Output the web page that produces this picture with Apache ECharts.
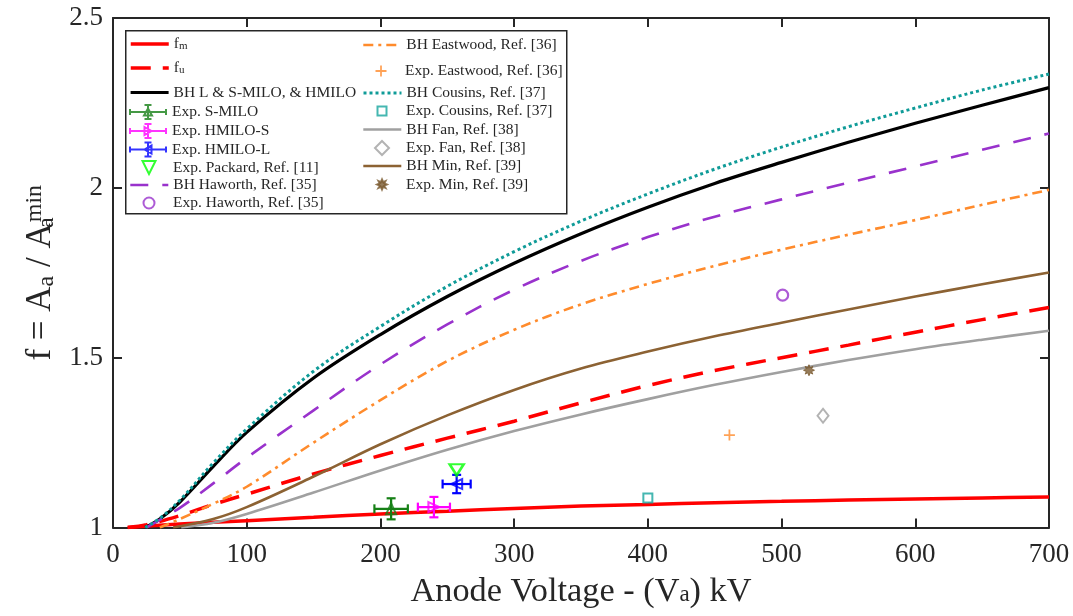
<!DOCTYPE html>
<html><head><meta charset="utf-8">
<script src="https://cdn.jsdelivr.net/npm/echarts@6/dist/echarts.min.js"></script>
<style>html,body{margin:0;padding:0;background:#fff}#c{width:1073px;height:616px}</style>
</head><body><div id="c"></div>
<script>
// ---------- data (x = anode voltage kV, y = f) ----------
const xTickValues = [0, 100, 200, 300, 400, 500, 600, 700];
const yTickValues = [1, 1.5, 2, 2.5];

const fmCurve = [[11,1.0],[50,1.01],[100,1.02],[150,1.03],[200,1.04],[250,1.048],[300,1.056],[350,1.063],[400,1.068],[450,1.073],[500,1.077],[550,1.081],[600,1.084],[650,1.087],[700,1.09]];
const fuCurve = [[11,1.0],[25,1.008],[50,1.035],[75,1.068],[100,1.098],[150,1.158],[200,1.212],[250,1.263],[300,1.313],[350,1.367],[400,1.418],[450,1.462],[500,1.5],[550,1.537],[600,1.575],[650,1.612],[700,1.648]];
const bhMiloCurve = [[24,1.0],[35,1.025],[50,1.075],[75,1.18],[100,1.28],[150,1.44],[200,1.568],[250,1.68],[300,1.778],[350,1.865],[400,1.943],[450,2.013],[500,2.075],[550,2.134],[600,2.19],[650,2.243],[700,2.295]];
const bhHaworthCurve = [[25,1.0],[50,1.058],[75,1.13],[100,1.205],[150,1.345],[200,1.48],[250,1.598],[300,1.7],[350,1.785],[400,1.855],[450,1.915],[500,1.966],[550,2.015],[600,2.063],[650,2.112],[700,2.16]];
const bhEastwoodCurve = [[35,1.0],[50,1.025],[75,1.07],[100,1.12],[150,1.25],[200,1.375],[250,1.49],[300,1.582],[350,1.657],[400,1.717],[450,1.77],[500,1.818],[550,1.862],[600,1.905],[650,1.95],[700,1.994]];
const bhCousinsCurve = [[24,1.0],[35,1.027],[50,1.08],[75,1.19],[100,1.29],[150,1.46],[200,1.592],[250,1.71],[300,1.812],[350,1.902],[400,1.982],[450,2.055],[500,2.12],[550,2.18],[600,2.235],[650,2.288],[700,2.335]];
const bhFanCurve = [[51,1.0],[75,1.014],[100,1.04],[150,1.103],[200,1.168],[250,1.229],[300,1.284],[350,1.333],[400,1.378],[450,1.42],[500,1.458],[550,1.493],[600,1.525],[650,1.553],[700,1.579]];
const bhMinCurve = [[45,1.0],[75,1.025],[100,1.06],[150,1.15],[200,1.245],[250,1.33],[300,1.405],[350,1.468],[400,1.518],[450,1.563],[500,1.603],[550,1.642],[600,1.68],[650,1.716],[700,1.751]];

// experimental points: [x, y, xErr, yErr]
const expSMilo = [208, 1.055, 12.5, 0.031];
const expHmiloS = [240, 1.06, 12, 0.03];
const expHmiloL = [257, 1.128, 10.5, 0.027];
// experimental points: [x, y]
const expPackard = [257, 1.17];
const expHaworth = [500.8, 1.684];
const expEastwood = [461, 1.272];
const expCousins = [400, 1.087];
const expFan = [531, 1.329];
const expMin = [520.5, 1.463];

// ---------- styling ----------
const FONT = 'Liberation Serif';
const TXT = '#262626';
const C = {
  red:'#ff0000', black:'#000000', green:'#168016', magenta:'#ff00ff', blue:'#0000ff',
  lime:'#00ff00', purple:'#9932cc', orange:'#ff8b2c', teal:'#0f9b98', gray:'#a0a0a0',
  brown:'#8c6233', brownMk:'#7b5a30', tealMk:'#16a59e'
};

const triUp = 'path://M5,0 L10,10 L0,10 Z';
const triRight = 'path://M0,0 L10,5 L0,10 Z';
const triLeft = 'path://M10,0 L10,10 L0,5 Z';
const triDown = 'path://M0,0 L10,0 L5,10 Z';
const starPath = 'path://M5,0 L6.2,2.6 L8.5,1.5 L7.4,3.8 L10,5 L7.4,6.2 L8.5,8.5 L6.2,7.4 L5,10 L3.8,7.4 L1.5,8.5 L2.6,6.2 L0,5 L2.6,3.8 L1.5,1.5 L3.8,2.6 Z';
const plusPath = 'path://M4.2,0 H5.8 V4.2 H10 V5.8 H5.8 V10 H4.2 V5.8 H0 V4.2 H4.2 Z';
// legend icons with error bars (38 x 14 box)
const errIcon = tri => 'path://M1,7 H37 M1,4 V10 M37,4 V10 M19,0 V14 M15.5,0 H22.5 M15.5,14 H22.5 ' + tri;
const errUp = errIcon('M19,3.5 L23,10.5 L15,10.5 Z');
const errRight = errIcon('M15.5,3 L22.5,7 L15.5,11 Z');
const errLeft = errIcon('M22.5,3 L22.5,11 L15.5,7 Z');

function curve(name, data, color, width, type) {
  return { type:'line', name, data, smooth:0.35, symbol:'none', showSymbol:false,
    lineStyle:{ color, width, type }, itemStyle:{ color }, z:2, silent:true };
}
function marker(name, pt, symbol, size, color, bw, fill) {
  return { type:'scatter', name, data:[pt.slice(0,2)], symbol, symbolSize:size,
    itemStyle:{ color: fill || 'rgba(0,0,0,0)', borderColor: color, borderWidth: bw }, z:5, silent:true };
}
function errBars(name, pt, color) {
  return { type:'custom', name, data:[pt], encode:{x:0, y:1}, z:4, silent:true,
    renderItem(params, api) {
      const x = api.value(0), y = api.value(1), dx = api.value(2), dy = api.value(3);
      const l = api.coord([x-dx, y]), r = api.coord([x+dx, y]);
      const t = api.coord([x, y+dy]), b = api.coord([x, y-dy]);
      const cap = 4.5, st = { stroke: color, lineWidth: 2.2 };
      const ln = (x1,y1,x2,y2) => ({ type:'line', shape:{x1,y1,x2,y2}, style: st });
      return { type:'group', children:[
        ln(l[0], l[1], r[0], r[1]), ln(l[0], l[1]-cap, l[0], l[1]+cap), ln(r[0], r[1]-cap, r[0], r[1]+cap),
        ln(t[0], t[1], b[0], b[1]), ln(t[0]-cap, t[1], t[0]+cap, t[1]), ln(b[0]-cap, b[1], b[0]+cap, b[1])
      ]};
    } };
}

const N = {
  fm:'f_m', fu:'f_u', bh:'BH L & S-MILO, & HMILO', sm:'Exp. S-MILO', hs:'Exp. HMILO-S', hl:'Exp. HMILO-L',
  pk:'Exp. Packard, Ref. [11]', bhh:'BH Haworth, Ref. [35]', eh:'Exp. Haworth, Ref. [35]',
  bhe:'BH Eastwood, Ref. [36]', ee:'Exp. Eastwood, Ref. [36]', bhc:'BH Cousins, Ref. [37]', ec:'Exp. Cousins, Ref. [37]',
  bhf:'BH Fan, Ref. [38]', ef:'Exp. Fan, Ref. [38]', bhm:'BH Min, Ref. [39]', em:'Exp. Min, Ref. [39]'
};

const series = [
  curve(N.fm, fmCurve, C.red, 3.5, 'solid'),
  curve(N.fu, fuCurve, C.red, 3.5, [20, 12]),
  curve(N.bh, bhMiloCurve, C.black, 3.2, 'solid'),
  errBars('errS', expSMilo, C.green),
  marker(N.sm, expSMilo, triUp, [10, 11], C.green, 2),
  errBars('errHS', expHmiloS, C.magenta),
  marker(N.hs, expHmiloS, triRight, [11, 10], C.magenta, 2),
  errBars('errHL', expHmiloL, C.blue),
  marker(N.hl, expHmiloL, triLeft, [11, 10], C.blue, 2),
  marker(N.pk, expPackard, triDown, [14, 11], C.lime, 2.5),
  curve(N.bhh, bhHaworthCurve, C.purple, 2.6, [18, 14]),
  marker(N.eh, expHaworth, 'circle', 11, C.purple, 2.2),
  curve(N.bhe, bhEastwoodCurve, C.orange, 2.6, [10, 5, 3, 5]),
  marker(N.ee, expEastwood, plusPath, 11, C.orange, 0, C.orange),
  curve(N.bhc, bhCousinsCurve, C.teal, 3, [3, 3]),
  marker(N.ec, expCousins, 'rect', 9, C.tealMk, 2),
  curve(N.bhf, bhFanCurve, C.gray, 2.6, 'solid'),
  marker(N.ef, expFan, 'diamond', [11, 14], C.gray, 2),
  curve(N.bhm, bhMinCurve, C.brown, 2.6, 'solid'),
  marker(N.em, expMin, starPath, 11, C.brownMk, 1, C.brownMk)
];

// legend layout: [name, left x of icon slot, centre y, kind, size/width, icon]
const legendLayout = [
  [N.fm, 129, 44, 'line', 3.5], [N.fu, 129, 68, 'line', 3.5], [N.bh, 129, 92.5, 'line', 3.2],
  [N.sm, 129, 112, 'err', 0, errUp], [N.hs, 129, 131, 'err', 0, errRight], [N.hl, 129, 149.5, 'err', 0, errLeft],
  [N.pk, 129, 167.5, 'mk', 13], [N.bhh, 129, 185, 'line', 2.6], [N.eh, 129, 203, 'mk', 11],
  [N.bhe, 362, 45, 'line', 2.6], [N.ee, 362, 71, 'mk', 11], [N.bhc, 362, 93, 'line', 3], [N.ec, 362, 111, 'mk', 9],
  [N.bhf, 362, 129.5, 'line', 2.6], [N.ef, 362, 148, 'mk', 14], [N.bhm, 362, 166, 'line', 2.6], [N.em, 362, 184.5, 'mk', 10]
];
const LH = 16, SLOT = 38;
const legends = legendLayout.map(([name, x, cy, kind, sz, icon]) => {
  let iw = SLOT, ih = 16, shift = 0;
  if (kind === 'mk') { iw = sz; ih = sz; shift = (SLOT - sz) / 2; }
  if (kind === 'err') { ih = 14; }
  const leg = {
    left: x + shift, top: cy - Math.max(ih, LH) / 2, orient:'horizontal', itemWidth: iw, itemHeight: ih, itemGap: 0,
    selectedMode: false, data: [icon ? { name, icon } : name], padding: 0,
    textStyle: { fontFamily: FONT, fontSize: 15.5, color: TXT, lineHeight: LH, padding: [0, 0, 0, shift],
      rich: { m: { fontFamily: FONT, fontSize: 15.5, lineHeight: LH, color: TXT },
              s: { fontFamily: FONT, fontSize: 11, lineHeight: 2, verticalAlign: 'bottom', color: TXT } } },
    formatter: n => n === N.fm ? '{m|f}{s|m}' : n === N.fu ? '{m|f}{s|u}' : n
  };
  if (kind === 'line') {
    leg.itemStyle = { color: 'rgba(0,0,0,0)', borderColor: 'rgba(0,0,0,0)', borderWidth: 0 };
    leg.lineStyle = { width: sz };
  }
  if (kind === 'err') leg.itemStyle = { borderWidth: 2 };
  return leg;
});

const axisCommon = {
  type:'value', min: 0, max: 700, interval: 100,
  axisLine: { show:true, onZero:false, lineStyle:{ color: TXT, width: 2 } },
  axisTick: { show:true, inside:true, length: 9, lineStyle:{ color: TXT, width: 2 } },
  splitLine: { show:false }
};

const option = {
  animation: false,
  backgroundColor: '#ffffff',
  grid: { left: 113, right: 24, top: 18, bottom: 88.5, containLabel: false },
  xAxis: [
    Object.assign({}, axisCommon, {
      position:'bottom',
      axisLabel: { show:true, margin: 14, fontFamily: FONT, fontSize: 27, color: TXT, formatter: v => xTickValues.includes(v) ? String(v) : '' },
      name: '{m|Anode Voltage - (V}{s|a}{m|) kV}', nameLocation:'middle', nameGap: 49,
      nameTextStyle: { fontFamily: FONT, color: TXT, rich: {
        m: { fontFamily: FONT, fontSize: 34.3, lineHeight: 30, color: TXT },
        s: { fontFamily: FONT, fontSize: 23, lineHeight: 6, verticalAlign: 'bottom', color: TXT } } }
    }),
    Object.assign({}, axisCommon, { position:'top', axisLabel:{ show:false } })
  ],
  yAxis: [
    Object.assign({}, axisCommon, {
      min: 1, max: 2.5, interval: 0.5, position:'left',
      axisLabel: { show:true, margin: 10, fontFamily: FONT, fontSize: 27, color: TXT, formatter: v => yTickValues.includes(v) ? String(v) : '' },
      name: '{m|f = A}{s|a}{m| / A}{s2|a}{p|min}', nameLocation:'middle', nameGap: 49, nameRotate: 90,
      nameTextStyle: { fontFamily: FONT, color: TXT, rich: {
        m: { fontFamily: FONT, fontSize: 35, lineHeight: 36, color: TXT },
        s: { fontFamily: FONT, fontSize: 24, lineHeight: 8, verticalAlign: 'bottom', color: TXT },
        s2: { fontFamily: FONT, fontSize: 24, lineHeight: 8, verticalAlign: 'bottom', color: TXT, width: 1 },
        p: { fontFamily: FONT, fontSize: 24, lineHeight: 4, verticalAlign: 'top', color: TXT } } }
    }),
    Object.assign({}, axisCommon, { min: 1, max: 2.5, interval: 0.5, position:'right', axisLabel:{ show:false } })
  ],
  legend: legends,
  graphic: [{ type:'rect', left: 125, top: 30, z: 3, shape:{ width: 441, height: 183 },
    style:{ fill:'#ffffff', stroke: TXT, lineWidth: 1.5 } }],
  series
};

const chart = echarts.init(document.getElementById('c'), null, { renderer: 'canvas' });
chart.setOption(option);
</script>
</body></html>
